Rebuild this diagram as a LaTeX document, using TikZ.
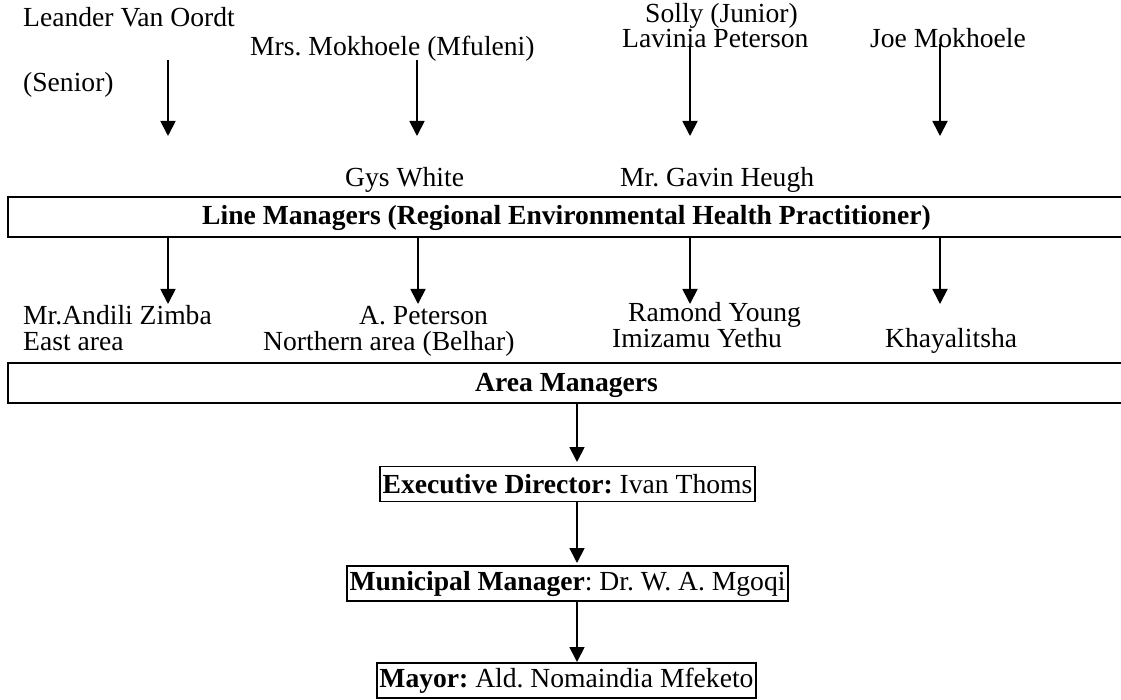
\documentclass[tikz,border=0pt]{standalone}
\usepackage{fontspec}
\setmainfont{Liberation Serif}
\usetikzlibrary{arrows.meta}
\frenchspacing
\begin{document}
\begin{tikzpicture}[x=1pt,y=-1pt,
  txt/.style={inner sep=0pt, anchor=base west, font=\fontsize{27.6}{33}\selectfont},
  bar/.style={draw, line width=1.6pt, anchor=north west, inner sep=0pt, minimum width=1130pt, minimum height=40pt},
  post/.style={draw, line width=1.6pt, inner xsep=2.5pt, inner ysep=0pt, minimum height=35pt, font=\fontsize{27.6}{33}\selectfont},
  arr/.style={line width=1.8pt, -{Triangle[length=15pt,width=15pt]}}]
\clip (0,0) rectangle (1121,700);
\useasboundingbox (0,0) rectangle (1121,700);

% top names
\node[txt] (leander) at (23,27) {Leander Van Oordt};
\node[txt] (senior) at (23,92) {(Senior)};
\node[txt] (mokhoele) at (250,56) {Mrs. Mokhoele (Mfuleni)};
\node[txt] (solly) at (645,23) {Solly (Junior)};
\node[txt] (lavinia) at (622,48) {Lavinia Peterson};
\node[txt] (joe) at (870,48) {Joe Mokhoele};

\coordinate (t1s) at (168,60);  \coordinate (t1e) at (168,136);
\coordinate (t2s) at (417,60);  \coordinate (t2e) at (417,136);
\coordinate (t3s) at (690,44);  \coordinate (t3e) at (690,136);
\coordinate (t4s) at (940,44);  \coordinate (t4e) at (940,136);
\draw[arr] (t1s) -- (t1e);
\draw[arr] (t2s) -- (t2e);
\draw[arr] (t3s) -- (t3e);
\draw[arr] (t4s) -- (t4e);

\node[txt] (gys) at (345,187) {Gys White};
\node[txt] (gavin) at (620,187) {Mr. Gavin Heugh};

% line managers bar
\node[bar] (lmbox) at (7,196) {};
\node[txt] (lmtext) at (202,225) {\textbf{Line Managers (Regional Environmental Health Practitioner)}};

\coordinate (l1) at (168,304);
\coordinate (l2) at (418,304);
\coordinate (l3) at (690,304);
\coordinate (l4) at (940,304);
\draw[arr] (lmbox.south -| l1) -- (l1);
\draw[arr] (lmbox.south -| l2) -- (l2);
\draw[arr] (lmbox.south -| l3) -- (l3);
\draw[arr] (lmbox.south -| l4) -- (l4);

% area names
\node[txt] (zimba) at (23,324) {Mr.Andili Zimba};
\node[txt] (east) at (23,350) {East area};
\node[txt] (apet) at (359,324) {A. Peterson};
\node[txt] (north) at (263,350) {Northern area (Belhar)};
\node[txt] (ramond) at (628,322) {Ramond Young};
\node[txt] (imizamu) at (612,348) {Imizamu Yethu};
\node[txt] (khaya) at (885,348) {Khayalitsha};

% area managers bar
\node[bar] (areabox) at (7,362) {};
\node[txt] (areatext) at (475,391) {\textbf{Area Managers}};

% hierarchy
\node[post] (exec) at (567.5,484) {\textbf{Executive Director:} Ivan Thoms};
\node[post] (mun) at (567.5,583.5) {\textbf{Municipal Manager}: Dr. W. A. Mgoqi};
\node[post] (mayor) at (566.5,680.5) {\textbf{Mayor:} Ald. Nomaindia Mfeketo};

\coordinate (s1) at (577,462);
\coordinate (s2) at (577,563);
\coordinate (s3) at (577,662);
\draw[arr] (areabox.south -| s1) -- (s1);
\draw[arr] (exec.south -| s2) -- (s2);
\draw[arr] (mun.south -| s3) -- (s3);
\end{tikzpicture}
\end{document}
